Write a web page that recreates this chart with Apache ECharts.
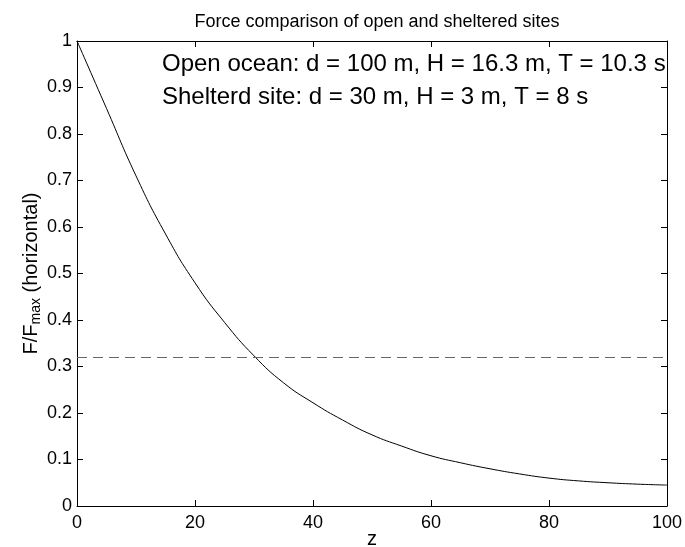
<!DOCTYPE html>
<html>
<head>
<meta charset="utf-8">
<script src="https://cdn.jsdelivr.net/npm/echarts@6/dist/echarts.min.js"></script>
<style>
  html, body { margin: 0; padding: 0; background: #fff; }
  #main { width: 685px; height: 547px; }
</style>
</head>
<body>
<div id="main"></div>
<script>
// depth below surface and relative force
var zValues = [0, 5, 10, 15, 20, 25, 30, 35, 40, 45, 50, 55, 60, 65, 70, 75, 80, 85, 90, 95, 100];
var forceRatio = [1.0, 0.855, 0.71, 0.585, 0.48, 0.395, 0.323, 0.265, 0.222, 0.185, 0.153,
                  0.129, 0.108, 0.093, 0.080, 0.069, 0.060, 0.054, 0.050, 0.047, 0.045];
var shelteredLevel = 0.315;
var notes = ['Open ocean: d = 100 m, H = 16.3 m, T = 10.3 s',
             'Shelterd site: d = 30 m, H = 3 m, T = 8 s'];

var font = "'Liberation Sans', Arial, Helvetica, sans-serif";

var myChart = echarts.init(document.getElementById('main'));

var curve = zValues.map(function (z, i) { return [z, forceRatio[i]]; });

// ticks point into the plot on all four sides (matlab style)
var tick = { show: true, inside: false, length: -6, lineStyle: { color: '#000' } };
var line = { show: true, onZero: false, lineStyle: { color: '#000' } };

var option = {
    animation: false,
    backgroundColor: '#fff',
    title: {
        text: 'Force comparison of open and sheltered sites',
        left: 372,
        textAlign: 'center',
        top: 8,
        textStyle: { fontFamily: font, fontSize: 18, fontWeight: 'normal', color: '#000' }
    },
    grid: { left: 77, right: 18, top: 41, bottom: 41, containLabel: false, outerBoundsMode: 'none' },
    xAxis: [
        {
            type: 'value', min: 0, max: 100, interval: 20,
            name: 'z', nameLocation: 'middle', nameGap: 23, nameMoveOverlap: false,
            nameTextStyle: { fontFamily: font, fontSize: 20, color: '#000' },
            axisLine: line, axisTick: tick, splitLine: { show: false },
            axisLabel: { margin: 8, fontFamily: font, fontSize: 18, color: '#000' }
        },
        {
            type: 'value', position: 'top', min: 0, max: 100, interval: 20,
            axisLine: line, axisTick: tick, splitLine: { show: false },
            axisLabel: { show: false }
        }
    ],
    yAxis: [
        {
            type: 'value', min: 0, max: 1, interval: 0.1,
            name: '{a|F/F}{s|max}{a| (horizontal)}',
            nameLocation: 'middle', nameGap: 33, nameRotate: 90, nameMoveOverlap: false,
            nameTextStyle: {
                rich: {
                    a: { fontFamily: font, fontSize: 20, color: '#000', lineHeight: 26, verticalAlign: 'middle' },
                    s: { fontFamily: font, fontSize: 14, color: '#000', lineHeight: 14, verticalAlign: 'middle', padding: [10, 0, 0, 0] }
                }
            },
            axisLine: line, axisTick: tick, splitLine: { show: false },
            axisLabel: {
                margin: 5, fontFamily: font, fontSize: 18, color: '#000',
                formatter: function (v) { return String(Math.round(v * 10) / 10); }
            }
        },
        {
            type: 'value', position: 'right', min: 0, max: 1, interval: 0.1,
            axisLine: line, axisTick: tick, splitLine: { show: false },
            axisLabel: { show: false }
        }
    ],
    graphic: [
        {
            type: 'text', left: 162, top: 52,
            style: { text: notes[0], font: '24px ' + font, fill: '#000' }
        },
        {
            type: 'text', left: 162, top: 85,
            style: { text: notes[1], font: '24px ' + font, fill: '#000' }
        }
    ],
    series: [
        {
            type: 'line',
            data: curve,
            smooth: true,
            showSymbol: false,
            lineStyle: { color: '#000', width: 1 },
            markLine: {
                silent: true,
                symbol: 'none',
                label: { show: false },
                lineStyle: { color: '#666', width: 1.2, type: [10, 6] },
                data: [{ yAxis: shelteredLevel }]
            }
        }
    ]
};
myChart.setOption(option);
</script>
</body>
</html>
